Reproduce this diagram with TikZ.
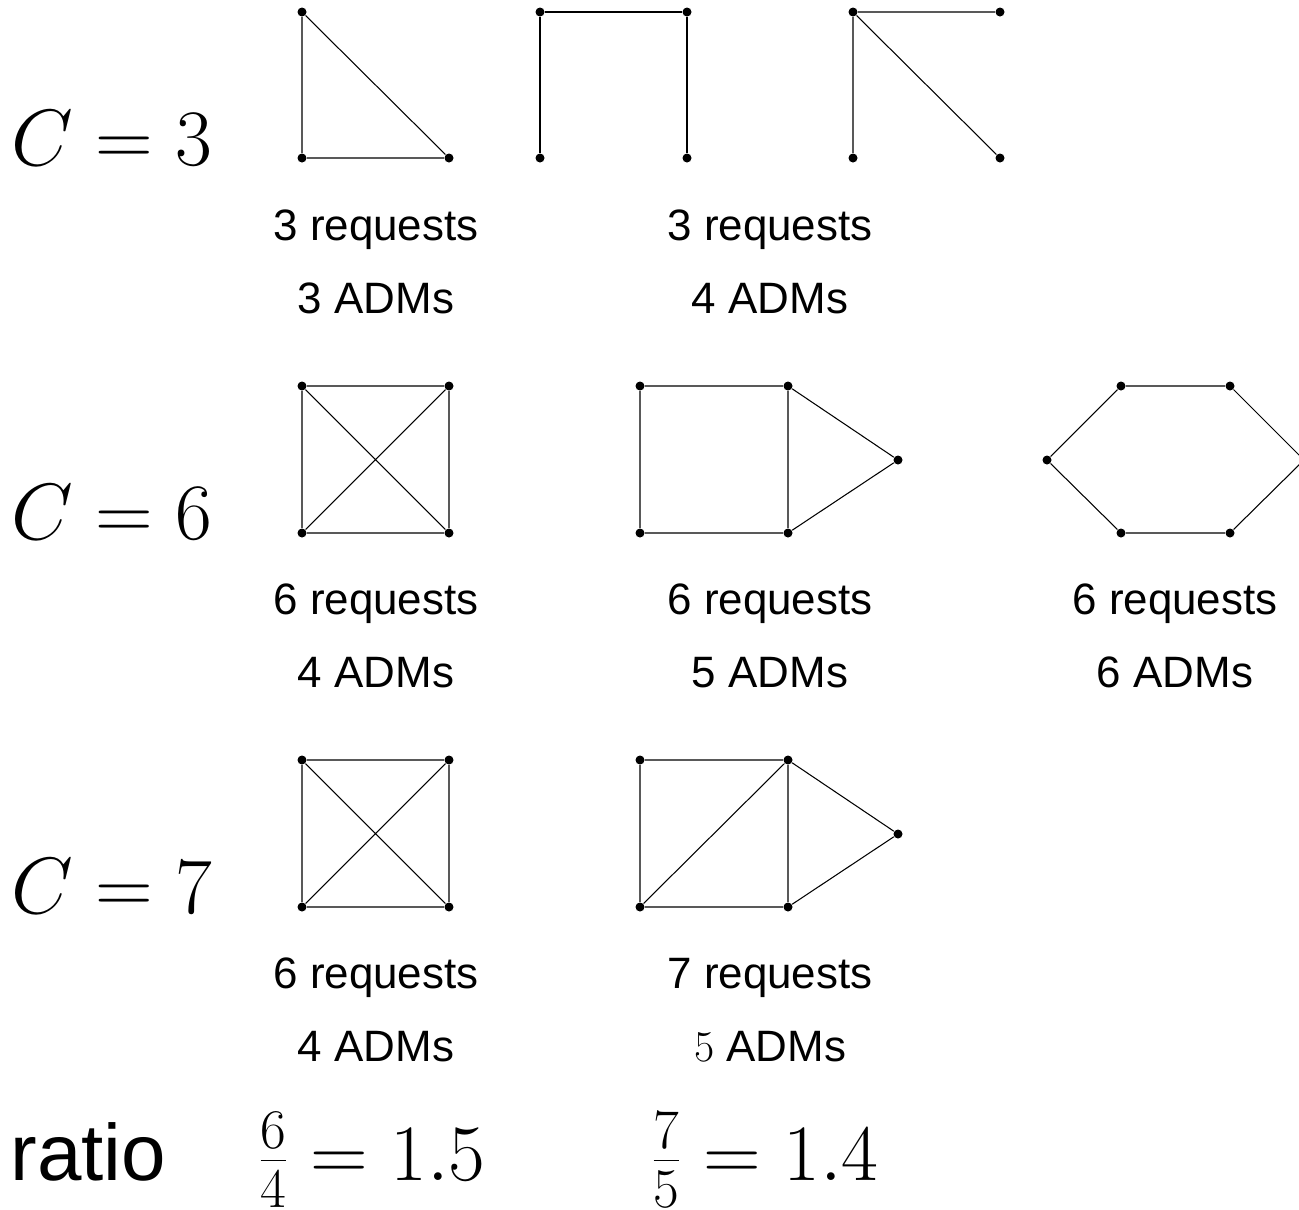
\RequirePackage{fix-cm}
\documentclass[tikz,border=0pt]{standalone}
\usepackage{fontspec}
\setmainfont{Liberation Sans}
\tikzset{
  vtx/.style={circle,fill,inner sep=0pt,minimum size=0.18cm},
  lbl/.style={anchor=base,inner sep=0pt,font=\fontsize{25}{30}\selectfont},
  big/.style={anchor=base west,inner sep=0pt,font=\fontsize{45.5}{55}\selectfont}
}
\begin{document}
\begin{tikzpicture}[x=0.2mm,y=-0.2mm,line width=0.6pt]
  \useasboundingbox (0,0) rectangle (1299,1209);
  \foreach \c/\y in {3/165,6/539,7/913} {
    \node[big] (C\c) at (11,\y) {$C=\c$};
  }
  \node[big] (ratio) at (10,1180) {ratio};
  \node[big] (r1) at (258,1180) {$\frac{6}{4}=1.5$};
  \node[big] (r2) at (651,1180) {$\frac{7}{5}=1.4$};
  % C = 3
  \foreach \n/\x/\y in {a1/302/12,a2/302/158,a3/449/158,
      b1/540/12,b2/687/12,b3/540/158,b4/687/158,
      c1/853/12,c2/1000/12,c3/853/158,c4/1000/158} {
    \node[vtx] (\n) at (\x,\y) {};
  }
  \draw (a1) -- (a2) -- (a3) -- (a1);
  \draw (b3) -- (b1) -- (b2) -- (b4);
  \draw (c3) -- (c1) -- (c2) (c1) -- (c4);
  % C = 6
  \foreach \n/\x/\y in {d1/302/386,d2/449/386,d3/449/533,d4/302/533,
      e1/640/386,e2/788/386,e3/788/533,e4/640/533,e5/898/460,
      f1/1047/460,f2/1121/386,f3/1230/386,f4/1304/460,f5/1230/533,f6/1121/533} {
    \node[vtx] (\n) at (\x,\y) {};
  }
  \draw (d1) -- (d2) -- (d3) -- (d4) -- (d1) -- (d3) (d2) -- (d4);
  \draw (e1) -- (e2) -- (e3) -- (e4) -- (e1) (e2) -- (e5) -- (e3);
  \draw (f1) -- (f2) -- (f3) -- (f4) -- (f5) -- (f6) -- (f1);
  % C = 7
  \foreach \n/\x/\y in {g1/302/760,g2/449/760,g3/449/907,g4/302/907,
      h1/640/760,h2/788/760,h3/788/907,h4/640/907,h5/898/834} {
    \node[vtx] (\n) at (\x,\y) {};
  }
  \draw (g1) -- (g2) -- (g3) -- (g4) -- (g1) -- (g3) (g2) -- (g4);
  \draw (h1) -- (h2) -- (h3) -- (h4) -- (h1) (h2) -- (h5) -- (h3) (h4) -- (h2);
  \foreach \x/\y/\req/\adm [count=\i] in {376/240/3/3,770/240/3/4,
      376/614/6/4,770/614/6/5,1175/614/6/6,376/988/6/4,770/988/7/$5$} {
    \node[lbl] (req\i) at (\x,\y) {\req\ requests};
    \node[lbl] (adm\i) at (\x,\y+73) {\adm\ ADMs};
  }
\end{tikzpicture}
\end{document}
